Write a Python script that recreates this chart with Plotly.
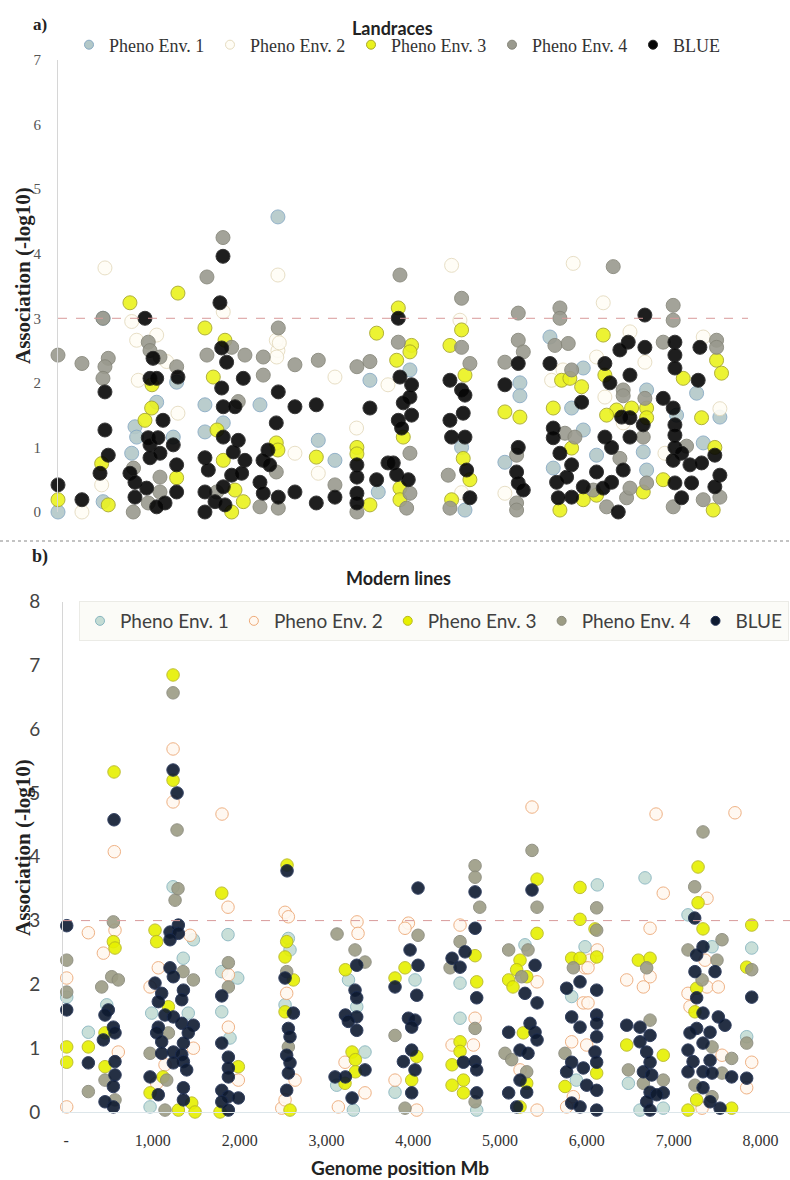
import plotly.graph_objects as go

# ---------------- a) Landraces ----------------
top_env1_x = [0, 520, 520, 1137, 887, 906, 849, 1367, 1328, 1693, 1904, 1693, 2327, 2534, 2999, 3191, 3594, 3690, 4055, 4650,
              4689, 5322, 5322, 5149, 5668, 6052, 5918, 6052, 5706, 6205, 6782, 6743, 6782, 7127, 7434, 7358, 7626]
top_env1_y = [0.0, 3.0, 0.16, 1.70, 1.32, 1.16, 0.91, 2.01, 1.16, 1.66, 1.38, 1.24, 1.66, 4.57, 1.11, 0.80, 2.04, 0.31, 2.20, 1.00,
              0.03, 2.00, 1.80, 0.77, 2.71, 2.23, 1.61, 1.27, 0.68, 0.88, 1.89, 0.93, 0.65, 1.50, 1.07, 1.84, 1.47]

top_env2_x = [276, 541, 503, 849, 906, 925, 1137, 1252, 1382, 1904, 2534, 2534, 2515, 2730, 2999, 3191, 3440, 3802, 4631, 4650,
              5149, 6282, 6590, 6205, 6301, 6512, 6762, 5687, 5818, 6993, 7434, 7626, 4535, 5936, 2550, 2520]
top_env2_y = [0.0, 3.78, 0.42, 2.95, 2.66, 2.04, 2.74, 2.33, 1.53, 3.10, 3.67, 2.50, 2.66, 0.91, 0.60, 2.09, 1.30, 1.97, 2.97, 0.30,
              0.29, 3.24, 2.79, 2.40, 1.78, 1.38, 2.32, 2.04, 2.20, 0.91, 2.71, 1.60, 3.82, 3.85, 2.62, 2.40]

top_env3_x = [0, 503, 579, 829, 1079, 1002, 1382, 1367, 1693, 1924, 1789, 1904, 2039, 2001, 2135, 2515, 2534, 2976, 3444, 3444,
              3594, 3671, 3921, 4074, 4055, 3902, 3978, 3940, 3940, 4650, 4516, 4689, 4669, 4746, 4535, 5149, 5322, 5802, 5898, 6033,
              5706, 5918, 5783, 6052, 6282, 6301, 6436, 6321, 6205, 6782, 6782, 6743, 7204, 6973, 7588, 7645, 7415, 7568, 7549, 6609,
              1083, 1832]
top_env3_y = [0.19, 0.75, 0.11, 3.24, 1.61, 1.42, 3.39, 0.53, 2.85, 2.66, 2.09, 0.80, 0.34, 0.00, 0.16, 1.07, 0.96, 0.85, 1.00, 0.90,
              0.11, 2.77, 3.16, 2.58, 2.48, 2.35, 1.16, 0.37, 0.19, 2.82, 2.58, 2.12, 0.83, 0.50, 0.19, 1.55, 1.47, 2.04, 2.07, 1.94,
              1.61, 0.99, 0.03, 0.19, 2.74, 2.12, 1.58, 1.50, 0.26, 1.61, 1.46, 0.31, 2.07, 0.50, 2.35, 2.15, 1.46, 1.00, 0.03, 1.61,
              1.97, 1.27]

top_env4_x = [0, 276, 518, 579, 541, 518, 1040, 1060, 1175, 1367, 867, 1040, 1175, 1716, 1901, 2001, 2154, 1716, 2077, 1828,
              2538, 2365, 2365, 2515, 2538, 2327, 2730, 2999, 3191, 3444, 3594, 3444, 3921, 4055, 4055, 4017, 4650, 4650, 4746, 4496,
              4516, 5303, 5303, 5361, 5149, 5284, 5284, 5284, 5783, 5783, 5725, 5879, 5918, 5841, 5956, 6167, 6512, 6512, 6474, 6321,
              6551, 6590, 6762, 6743, 6782, 7088, 7088, 6973, 7088, 7242, 7434, 7588, 7588, 7626, 6397, 3940, 870, 1175]
top_env4_y = [2.43, 2.30, 3.00, 2.38, 2.25, 2.07, 2.63, 2.50, 2.40, 2.25, 0.00, 0.14, 0.31, 3.64, 4.25, 2.55, 2.43, 2.43, 1.71, 0.31,
              2.85, 2.40, 2.12, 0.62, 0.06, 0.08, 2.28, 2.35, 0.42, 2.25, 2.33, 0.00, 2.63, 0.91, 0.29, 0.06, 3.31, 2.55, 2.30, 0.57,
              0.06, 3.08, 2.66, 2.48, 2.32, 0.88, 0.14, 0.03, 3.16, 3.00, 2.58, 2.61, 2.20, 1.22, 1.16, 0.34, 1.89, 1.80, 0.83, 0.08,
              0.22, 0.37, 1.76, 1.16, 0.45, 3.20, 2.97, 2.63, 0.08, 1.02, 0.19, 2.66, 2.55, 0.23, 3.80, 3.67, 0.68, 0.54]

top_blue_x = [0, 276, 541, 541, 579, 484, 1002, 1095, 1060, 1040, 1060, 1060, 829, 887, 1021, 887, 1137, 1382, 1210, 1152,
              1328, 1175, 1367, 1367, 1233, 1137, 1866, 1901, 1886, 1943, 2135, 1886, 1904, 2039, 1904, 2077, 2020, 1693, 2154, 1732,
              2001, 2116, 1904, 1693, 1809, 1924, 1693, 2538, 2515, 2419, 2362, 2439, 2327, 2365, 2538, 2730, 2730, 2976, 2976, 3191,
              3594, 3444, 3444, 3444, 3444, 3802, 3671, 3921, 3940, 4074, 4055, 3978, 4074, 3921, 3959, 3863, 3902, 4036, 4516, 4650,
              4689, 4669, 4516, 4535, 4689, 4708, 4746, 5303, 5149, 5303, 5284, 5303, 5361, 5668, 6033, 5706, 5706, 5783, 5918, 5745,
              5860, 6052, 5918, 5764, 6570, 6474, 6301, 6590, 6359, 6590, 6494, 6590, 6301, 6378, 6512, 6205, 6378, 6282, 6455, 6762,
              6762, 6743, 7108, 7108, 7108, 6973, 7088, 7108, 7108, 7108, 7185, 7088, 7281, 7108, 7300, 7185, 7396, 7376, 7568, 7415,
              7626, 7568]
top_blue_y = [0.42, 0.19, 1.86, 1.27, 0.88, 0.60, 3.00, 2.38, 2.07, 1.15, 1.04, 0.84, 0.60, 0.46, 0.37, 0.23, 2.07, 2.09, 1.42, 1.15,
              1.04, 0.91, 0.73, 0.31, 0.14, 0.08, 3.24, 3.96, 2.54, 2.32, 2.07, 1.92, 1.63, 1.63, 1.16, 1.11, 0.93, 0.84, 0.80, 0.65,
              0.57, 0.60, 0.39, 0.31, 0.16, 0.11, 0.00, 1.86, 1.38, 0.96, 0.80, 0.73, 0.46, 0.29, 0.23, 1.63, 0.31, 1.66, 0.14, 0.23,
              1.61, 0.73, 0.54, 0.29, 0.14, 0.76, 0.50, 3.00, 2.09, 1.97, 1.78, 1.69, 1.50, 1.42, 1.30, 0.76, 0.58, 0.50, 2.04, 1.89,
              1.81, 1.53, 1.42, 1.16, 1.16, 0.65, 0.22, 2.30, 1.97, 1.00, 0.62, 0.45, 0.34, 2.30, 1.70, 1.30, 1.15, 0.91, 0.73, 0.46,
              0.54, 0.39, 0.23, 0.22, 2.63, 2.51, 2.30, 2.12, 2.00, 1.46, 1.47, 1.16, 1.16, 1.00, 0.65, 0.62, 0.46, 0.37, 0.00, 3.05,
              2.55, 1.35, 2.63, 2.43, 2.23, 1.76, 1.61, 1.35, 1.19, 1.00, 0.91, 0.80, 0.73, 0.45, 0.45, 0.22, 2.55, 2.04, 0.88, 0.76,
              0.57, 0.39]

# ---------------- b) Modern lines ----------------
bot_env1_x = [8, 257, 469, 1233, 1350, 1467, 987, 1408, 968, 1866, 1794, 1978, 1794, 1889, 2561, 2580, 2523, 3254, 3349, 3444,
              3118, 3310, 4020, 3790, 4539, 4539, 4731, 5287, 6120, 5979, 5825, 5879, 6670, 6478, 6880, 6612, 7165, 7442, 7899, 7841]
bot_env1_y = [1.80, 1.25, 1.68, 3.53, 2.41, 2.70, 1.55, 1.55, 0.08, 2.78, 2.20, 2.10, 1.57, 1.16, 2.72, 2.54, 1.68, 2.07, 1.65, 0.94,
              0.42, 0.03, 2.07, 0.31, 2.02, 1.47, 0.03, 2.62, 3.56, 2.59, 1.81, 0.50, 3.67, 0.45, 0.06, 0.03, 3.09, 2.59, 2.57, 1.18]

bot_env2_x = [8, 8, 257, 564, 430, 556, 602, 1233, 1233, 1428, 1063, 968, 1467, 1140, 1044, 1797, 1866, 1870, 1870, 1985,
              2523, 2561, 2542, 2638, 2485, 2523, 3352, 3364, 3214, 3444, 3137, 3944, 3905, 3790, 4040, 4539, 4712, 4447, 4693, 5368,
              5426, 5230, 5426, 6120, 6036, 5979, 6013, 5959, 6013, 5825, 5998, 5844, 5767, 6797, 6880, 6728, 6728, 6651, 6459, 7706,
              7384, 7361, 7384, 7514, 7165, 7188, 7557, 7327, 7899, 7841]
bot_env2_y = [2.10, 0.08, 2.81, 2.85, 2.49, 4.08, 0.94, 5.69, 4.86, 2.77, 2.26, 1.96, 1.00, 0.74, 0.45, 4.67, 3.21, 2.15, 1.33, 0.50,
              3.13, 3.06, 1.86, 0.50, 0.06, 0.19, 2.98, 2.80, 0.78, 0.30, 0.08, 2.96, 2.88, 0.50, 0.03, 2.93, 1.47, 1.05, 1.05, 4.78,
              2.04, 0.66, 0.03, 2.54, 2.38, 2.26, 2.26, 1.71, 1.71, 1.10, 1.05, 0.24, 0.08, 4.67, 3.43, 2.88, 2.12, 1.96, 2.07, 4.69,
              3.35, 2.38, 1.96, 1.96, 1.86, 1.65, 0.89, 0.06, 0.78, 0.38]

bot_env3_x = [8, 8, 257, 553, 545, 564, 449, 449, 1233, 1233, 1025, 1044, 1179, 1117, 968, 1448, 1486, 1294, 1794, 1985,
              1774, 2546, 2542, 2523, 2619, 2523, 2580, 3218, 3295, 3333, 3333, 3214, 3905, 3790, 4040, 3982, 4712, 4731, 4539, 4539,
              4447, 4578, 4447, 4578, 5426, 5426, 5230, 5191, 5099, 5307, 5149, 5268, 5307, 5230, 5921, 5921, 6094, 5825, 5921, 6113,
              6113, 5748, 7281, 7281, 7338, 7265, 7245, 7265, 7668, 7165, 6593, 6728, 6459, 6880, 7899, 7841]
bot_env3_y = [1.02, 0.78, 1.02, 5.33, 2.67, 2.57, 1.24, 0.71, 6.85, 5.20, 2.85, 2.67, 1.65, 0.55, 0.30, 0.14, 0.00, 0.03, 3.43, 0.71,
              0.00, 3.87, 2.67, 2.43, 2.07, 1.57, 0.03, 2.23, 0.94, 0.82, 0.63, 0.45, 2.26, 2.10, 0.87, 0.50, 2.45, 2.04, 1.10, 0.95,
              0.74, 0.50, 0.42, 0.30, 3.65, 2.80, 2.38, 2.23, 2.07, 2.12, 1.96, 1.24, 0.45, 0.08, 3.52, 3.02, 2.87, 2.41, 2.41, 2.43,
              0.61, 0.40, 3.84, 3.28, 2.87, 1.94, 1.57, 0.19, 0.06, 0.03, 2.38, 2.41, 1.05, 0.89, 2.93, 2.27]

bot_env4_x = [8, 8, 257, 545, 411, 526, 602, 449, 564, 1233, 1279, 1256, 1290, 1348, 1467, 1179, 968, 1160, 1140, 1870,
              1870, 2542, 2561, 3122, 3329, 3444, 4055, 3790, 3905, 4712, 4712, 4766, 4539, 4424, 4712, 4712, 5368, 5426, 5322, 5099,
              5249, 5057, 5134, 5307, 6113, 6113, 5844, 5748, 6689, 6728, 6478, 6880, 6651, 7338, 7242, 7557, 7165, 7499, 7327, 7442,
              7668, 7557, 7245, 7442, 7899, 7841]
bot_env4_y = [2.38, 1.88, 0.32, 2.98, 1.96, 2.12, 2.07, 0.50, 0.19, 6.57, 4.42, 3.32, 3.50, 2.20, 2.07, 1.24, 0.92, 0.50, 0.03, 2.34,
              1.96, 2.20, 1.02, 2.79, 2.54, 2.35, 2.77, 1.20, 0.06, 3.86, 3.68, 3.21, 2.67, 2.26, 1.31, 0.16, 4.10, 3.21, 2.54, 2.54,
              2.12, 0.92, 0.82, 0.63, 3.20, 2.85, 2.26, 0.92, 2.26, 1.44, 0.66, 0.50, 0.45, 4.39, 3.53, 2.70, 2.54, 2.38, 2.07, 1.02,
              0.84, 0.61, 0.42, 0.24, 2.23, 1.08]

bot_blue_x = [8, 8, 257, 553, 487, 449, 545, 564, 430, 564, 564, 545, 449, 545, 1233, 1279, 1294, 1198, 1294, 1198,
              1198, 1236, 1025, 1102, 1352, 1333, 1063, 1140, 1236, 1333, 1467, 1063, 1408, 1044, 1102, 1352, 1102, 1236, 1333, 1352,
              1236, 1390, 968, 1352, 1063, 1352, 1794, 1794, 1870, 1870, 1870, 1794, 1870, 1985, 1794, 1870, 2546, 2523, 2619, 2561,
              2580, 2542, 2580, 2561, 2542, 3349, 3329, 3349, 3218, 3349, 3252, 3349, 3444, 3099, 3218, 3295, 4055, 3963, 4055, 3790,
              4040, 3944, 4020, 3982, 3982, 3886, 4020, 3982, 4712, 4712, 4597, 4447, 4539, 4731, 4578, 4712, 4731, 4731, 5368, 5403,
              5287, 5426, 5345, 5403, 5099, 5426, 5230, 5322, 5230, 5307, 5099, 5191, 5921, 5767, 6113, 5825, 6113, 5921, 6113, 6113,
              6094, 5825, 6113, 5767, 5959, 5998, 6113, 5825, 5921, 6113, 6459, 6612, 6728, 6612, 6689, 6728, 6651, 6747, 6728, 6880,
              6804, 6689, 6728, 7242, 7338, 7265, 7245, 7476, 7265, 7338, 7514, 7591, 7265, 7419, 7188, 7338, 7165, 7419, 7223, 7165,
              7338, 7442, 7668, 7338, 7419, 7534, 7899, 7841]
bot_blue_y = [2.92, 1.60, 0.77, 4.58, 1.60, 1.52, 1.33, 1.24, 1.13, 0.79, 0.58, 0.40, 0.16, 0.08, 5.36, 5.00, 2.93, 2.82, 2.80, 2.70,
              2.26, 2.12, 2.02, 1.86, 1.91, 1.76, 1.73, 1.52, 1.49, 1.39, 1.36, 1.33, 1.24, 1.24, 1.10, 1.08, 0.92, 0.94, 0.90, 0.79,
              0.77, 0.66, 0.55, 0.38, 0.27, 0.19, 1.82, 1.08, 0.86, 0.69, 0.55, 0.34, 0.24, 0.22, 0.16, 0.03, 3.78, 2.10, 1.55, 1.31,
              1.18, 0.89, 0.77, 0.61, 0.34, 2.30, 1.91, 1.79, 1.52, 1.49, 1.42, 1.28, 0.66, 0.55, 0.55, 0.22, 3.51, 2.54, 2.30, 1.96,
              1.83, 1.47, 1.44, 1.33, 0.97, 0.79, 0.66, 0.30, 3.45, 2.88, 2.51, 2.41, 2.27, 1.79, 0.78, 0.79, 0.66, 0.30, 3.48, 2.30,
              1.86, 1.71, 1.39, 1.25, 1.25, 1.13, 0.97, 0.92, 0.50, 0.31, 0.30, 0.08, 2.04, 1.94, 1.91, 1.49, 1.52, 1.33, 1.39, 1.18,
              0.94, 0.78, 0.78, 0.63, 0.69, 0.42, 0.34, 0.14, 0.08, 0.03, 1.36, 1.33, 1.20, 1.10, 0.94, 0.78, 0.63, 0.58, 0.31, 0.30,
              0.27, 0.16, 0.03, 3.04, 2.59, 2.46, 2.20, 2.20, 1.79, 1.55, 1.49, 1.36, 1.31, 1.25, 1.24, 1.08, 0.97, 0.81, 0.79, 0.63,
              0.63, 0.61, 0.55, 0.38, 0.16, 0.06, 1.80, 0.53]

series_names = ["Pheno Env. 1", "Pheno Env. 2", "Pheno Env. 3", "Pheno Env. 4", "BLUE"]
x_tick_vals = [0, 1000, 2000, 3000, 4000, 5000, 6000, 7000, 8000]
x_tick_text = ["-", "1,000", "2,000", "3,000", "4,000", "5,000", "6,000", "7,000", "8,000"]
threshold = 3

W, H = 790, 1180
def px(x):
    return x / W
def py(y):
    return 1 - y / H

SERIF = "Liberation Serif, Times New Roman, serif"
SANS = "Lato, Open Sans, sans-serif"

top_styles = [
    dict(color="#b3c8c8", line=dict(color="#88aac4", width=1)),
    dict(color="#fffdf6", line=dict(color="#e6dcc0", width=1)),
    dict(color="#eaf21e", line=dict(color="#a8a828", width=1)),
    dict(color="#9a9a8e", line=dict(color="#86867a", width=1)),
    dict(color="#060606", line=dict(color="#222222", width=1)),
]
bot_styles = [
    dict(color="#c4dcd4", line=dict(color="#88b6c0", width=1)),
    dict(color="#fff8f0", line=dict(color="#eeaa78", width=1)),
    dict(color="#e6f000", line=dict(color="#b8b820", width=1)),
    dict(color="#9c9c84", line=dict(color="#88887a", width=1)),
    dict(color="#0e1a30", line=dict(color="#1c2c50", width=1)),
]

fig = go.Figure()
top_data = [(top_env1_x, top_env1_y), (top_env2_x, top_env2_y), (top_env3_x, top_env3_y),
            (top_env4_x, top_env4_y), (top_blue_x, top_blue_y)]
bot_data = [(bot_env1_x, bot_env1_y), (bot_env2_x, bot_env2_y), (bot_env3_x, bot_env3_y),
            (bot_env4_x, bot_env4_y), (bot_blue_x, bot_blue_y)]

for name, (xs, ys), st in zip(series_names, top_data, top_styles):
    fig.add_trace(go.Scatter(x=xs, y=ys, mode="markers", name=name, xaxis="x", yaxis="y",
                             showlegend=False, cliponaxis=False,
                             marker=dict(size=14, opacity=0.9, **st)))
for name, (xs, ys), st in zip(series_names, bot_data, bot_styles):
    fig.add_trace(go.Scatter(x=xs, y=ys, mode="markers", name=name, xaxis="x2", yaxis="y2",
                             showlegend=False, cliponaxis=False,
                             marker=dict(size=12.5, opacity=0.9, **st)))
# legend entries (small symbols like the original legend)
for name, st in zip(series_names, top_styles):
    fig.add_trace(go.Scatter(x=[None], y=[None], mode="markers", name=name, xaxis="x", yaxis="y",
                             legend="legend", marker=dict(size=9, **st)))
for name, st in zip(series_names, bot_styles):
    fig.add_trace(go.Scatter(x=[None], y=[None], mode="markers", name=name, xaxis="x2", yaxis="y2",
                             legend="legend2", marker=dict(size=9, **st)))

fig.update_layout(
    template="none",
    width=W, height=H, margin=dict(l=0, r=0, t=0, b=0, pad=0), autosize=False,
    paper_bgcolor="white", plot_bgcolor="white",
    xaxis=dict(domain=[px(58), px(748)], range=[0, 7950], anchor="y", automargin=False,
               showticklabels=False, showgrid=False, zeroline=False, showline=False, ticks=""),
    yaxis=dict(domain=[py(512), py(60)], range=[0, 7], anchor="x", automargin=False,
               tickvals=list(range(0, 8)), showgrid=False, zeroline=False,
               showline=True, linecolor="#d6d6d6", linewidth=1,
               ticks="outside", ticklen=13, tickcolor="rgba(0,0,0,0)",
               tickfont=dict(family=SERIF, size=15, color="#555555")),
    xaxis2=dict(domain=[px(63), 1.0], range=[-35, 8340], anchor="y2", automargin=False,
                tickvals=x_tick_vals, ticktext=x_tick_text, showgrid=False, zeroline=False,
                showline=True, linecolor="#dde6ea", linewidth=1,
                ticks="outside", ticklen=14, tickcolor="rgba(0,0,0,0)",
                tickfont=dict(family=SERIF, size=16, color="#333333")),
    yaxis2=dict(domain=[py(1112), py(601.6)], range=[0, 8], anchor="x2", automargin=False,
                tickvals=list(range(0, 9)), showgrid=False, zeroline=False,
                showline=True, linecolor="#d6d6d6", linewidth=1,
                ticks="outside", ticklen=18, tickcolor="rgba(0,0,0,0)",
                tickfont=dict(family=SANS, size=19, color="#444444")),
    legend=dict(orientation="h", x=px(69), y=py(45), xanchor="left", yanchor="middle",
                font=dict(family=SERIF, size=18, color="#333333"),
                entrywidth=96, itemsizing="trace", bgcolor="rgba(0,0,0,0)", borderwidth=0),
    legend2=dict(orientation="h", x=px(79), y=py(621), xanchor="left", yanchor="middle",
                 font=dict(family=SANS, size=19, color="#404040"),
                 itemsizing="trace", bgcolor="#fbfbf7",
                 bordercolor="#ebebe6", borderwidth=1),
    showlegend=True,
)

shapes = [
    dict(type="line", xref="paper", yref="y", x0=px(58), x1=px(748), y0=threshold, y1=threshold,
         line=dict(color="#d89a9a", width=1, dash="dash")),
    dict(type="line", xref="paper", yref="y2", x0=px(63), x1=1.0, y0=threshold, y1=threshold,
         line=dict(color="#d89a9a", width=1, dash="dash")),
    dict(type="line", xref="paper", yref="paper", x0=0, x1=1, y0=py(541), y1=py(541),
         line=dict(color="#b0b0b0", width=1.5, dash="dot")),
]
fig.update_layout(shapes=shapes)

ann = [
    dict(text="<b>a)</b>", x=px(40), y=py(24), font=dict(family=SERIF, size=17, color="#222")),
    dict(text="<b>Landraces</b>", x=px(392), y=py(28), font=dict(family=SANS, size=18, color="#222")),
    dict(text="<b>b)</b>", x=px(40), y=py(556), font=dict(family=SERIF, size=18, color="#222")),
    dict(text="<b>Modern lines</b>", x=px(398), y=py(578), font=dict(family=SANS, size=18, color="#222")),
    dict(text="<b>Association (-log10)</b>", x=px(23), y=py(276), textangle=-90,
         font=dict(family=SERIF, size=21, color="#222")),
    dict(text="<b>Association (-log10)</b>", x=px(23), y=py(848), textangle=-90,
         font=dict(family=SERIF, size=21, color="#222")),
    dict(text="<b>Genome position Mb</b>", x=px(400), y=py(1167), font=dict(family=SANS, size=19, color="#222")),
]
for a in ann:
    a.update(xref="paper", yref="paper", showarrow=False, xanchor="center", yanchor="middle")
fig.update_layout(annotations=ann)

fig.write_html("out.html", config={"displayModeBar": False},
               post_script="document.body.style.margin='0px';")
